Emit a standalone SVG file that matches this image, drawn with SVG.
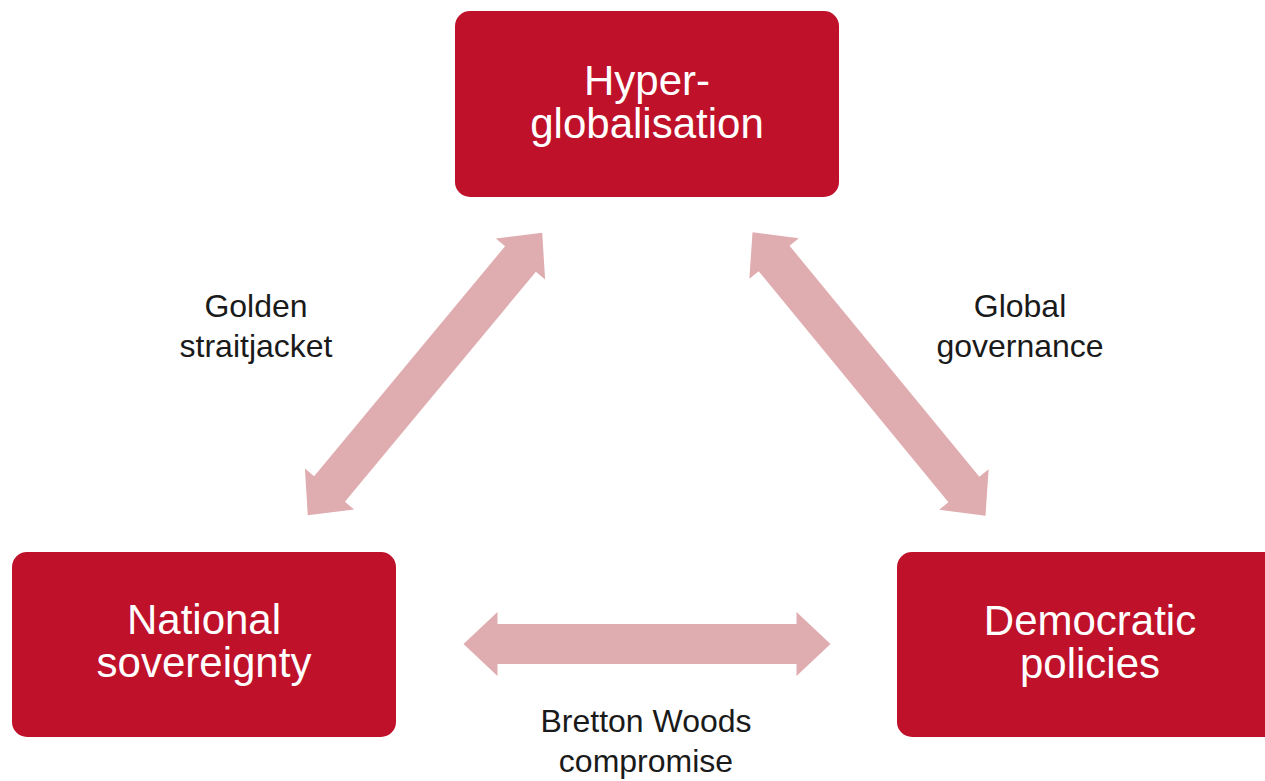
<svg xmlns="http://www.w3.org/2000/svg" width="1265" height="781" viewBox="0 0 1265 781">
  <style>
    .box { fill: #c0112b; }
    .btxt { fill: #ffffff; font-family: "Liberation Sans", Arial, sans-serif; font-size: 42px; text-anchor: middle; }
    .lbl { fill: #1a1a1a; font-family: "Liberation Sans", Arial, sans-serif; font-size: 32px; text-anchor: middle; }
    .arr { fill: #dfacb0; }
  </style>
  <defs>
    <path id="dblarrow" d="M -183.5 0 L -149.5 -32 L -149.5 -20 L 149.5 -20 L 149.5 -32 L 183.5 0 L 149.5 32 L 149.5 20 L -149.5 20 L -149.5 32 Z"/>
  </defs>
  <rect width="1265" height="781" fill="#ffffff"/>
  <g id="connectors">
    <use href="#dblarrow" class="arr" transform="translate(425 374) rotate(-50.3)"/>
    <use href="#dblarrow" class="arr" transform="translate(869 374) rotate(50.6)"/>
    <use href="#dblarrow" class="arr" transform="translate(647 644)"/>
    <text class="lbl"><tspan x="256" y="317">Golden</tspan><tspan x="256" y="357">straitjacket</tspan></text>
    <text class="lbl"><tspan x="1020" y="317">Global</tspan><tspan x="1020" y="357">governance</tspan></text>
    <text class="lbl"><tspan x="646" y="732">Bretton Woods</tspan><tspan x="646" y="772">compromise</tspan></text>
  </g>
  <g id="node-hyperglobalisation">
    <rect class="box" x="455" y="11" width="384" height="186" rx="15"/>
    <text class="btxt"><tspan x="647" y="95">Hyper-</tspan><tspan x="647" y="138">globalisation</tspan></text>
  </g>
  <g id="node-national-sovereignty">
    <rect class="box" x="12" y="552" width="384" height="185" rx="15"/>
    <text class="btxt"><tspan x="204" y="634">National</tspan><tspan x="204" y="677">sovereignty</tspan></text>
  </g>
  <g id="node-democratic-policies">
    <rect class="box" x="897" y="552" width="384" height="185" rx="15"/>
    <text class="btxt"><tspan x="1090" y="635">Democratic</tspan><tspan x="1090" y="678">policies</tspan></text>
  </g>
</svg>
